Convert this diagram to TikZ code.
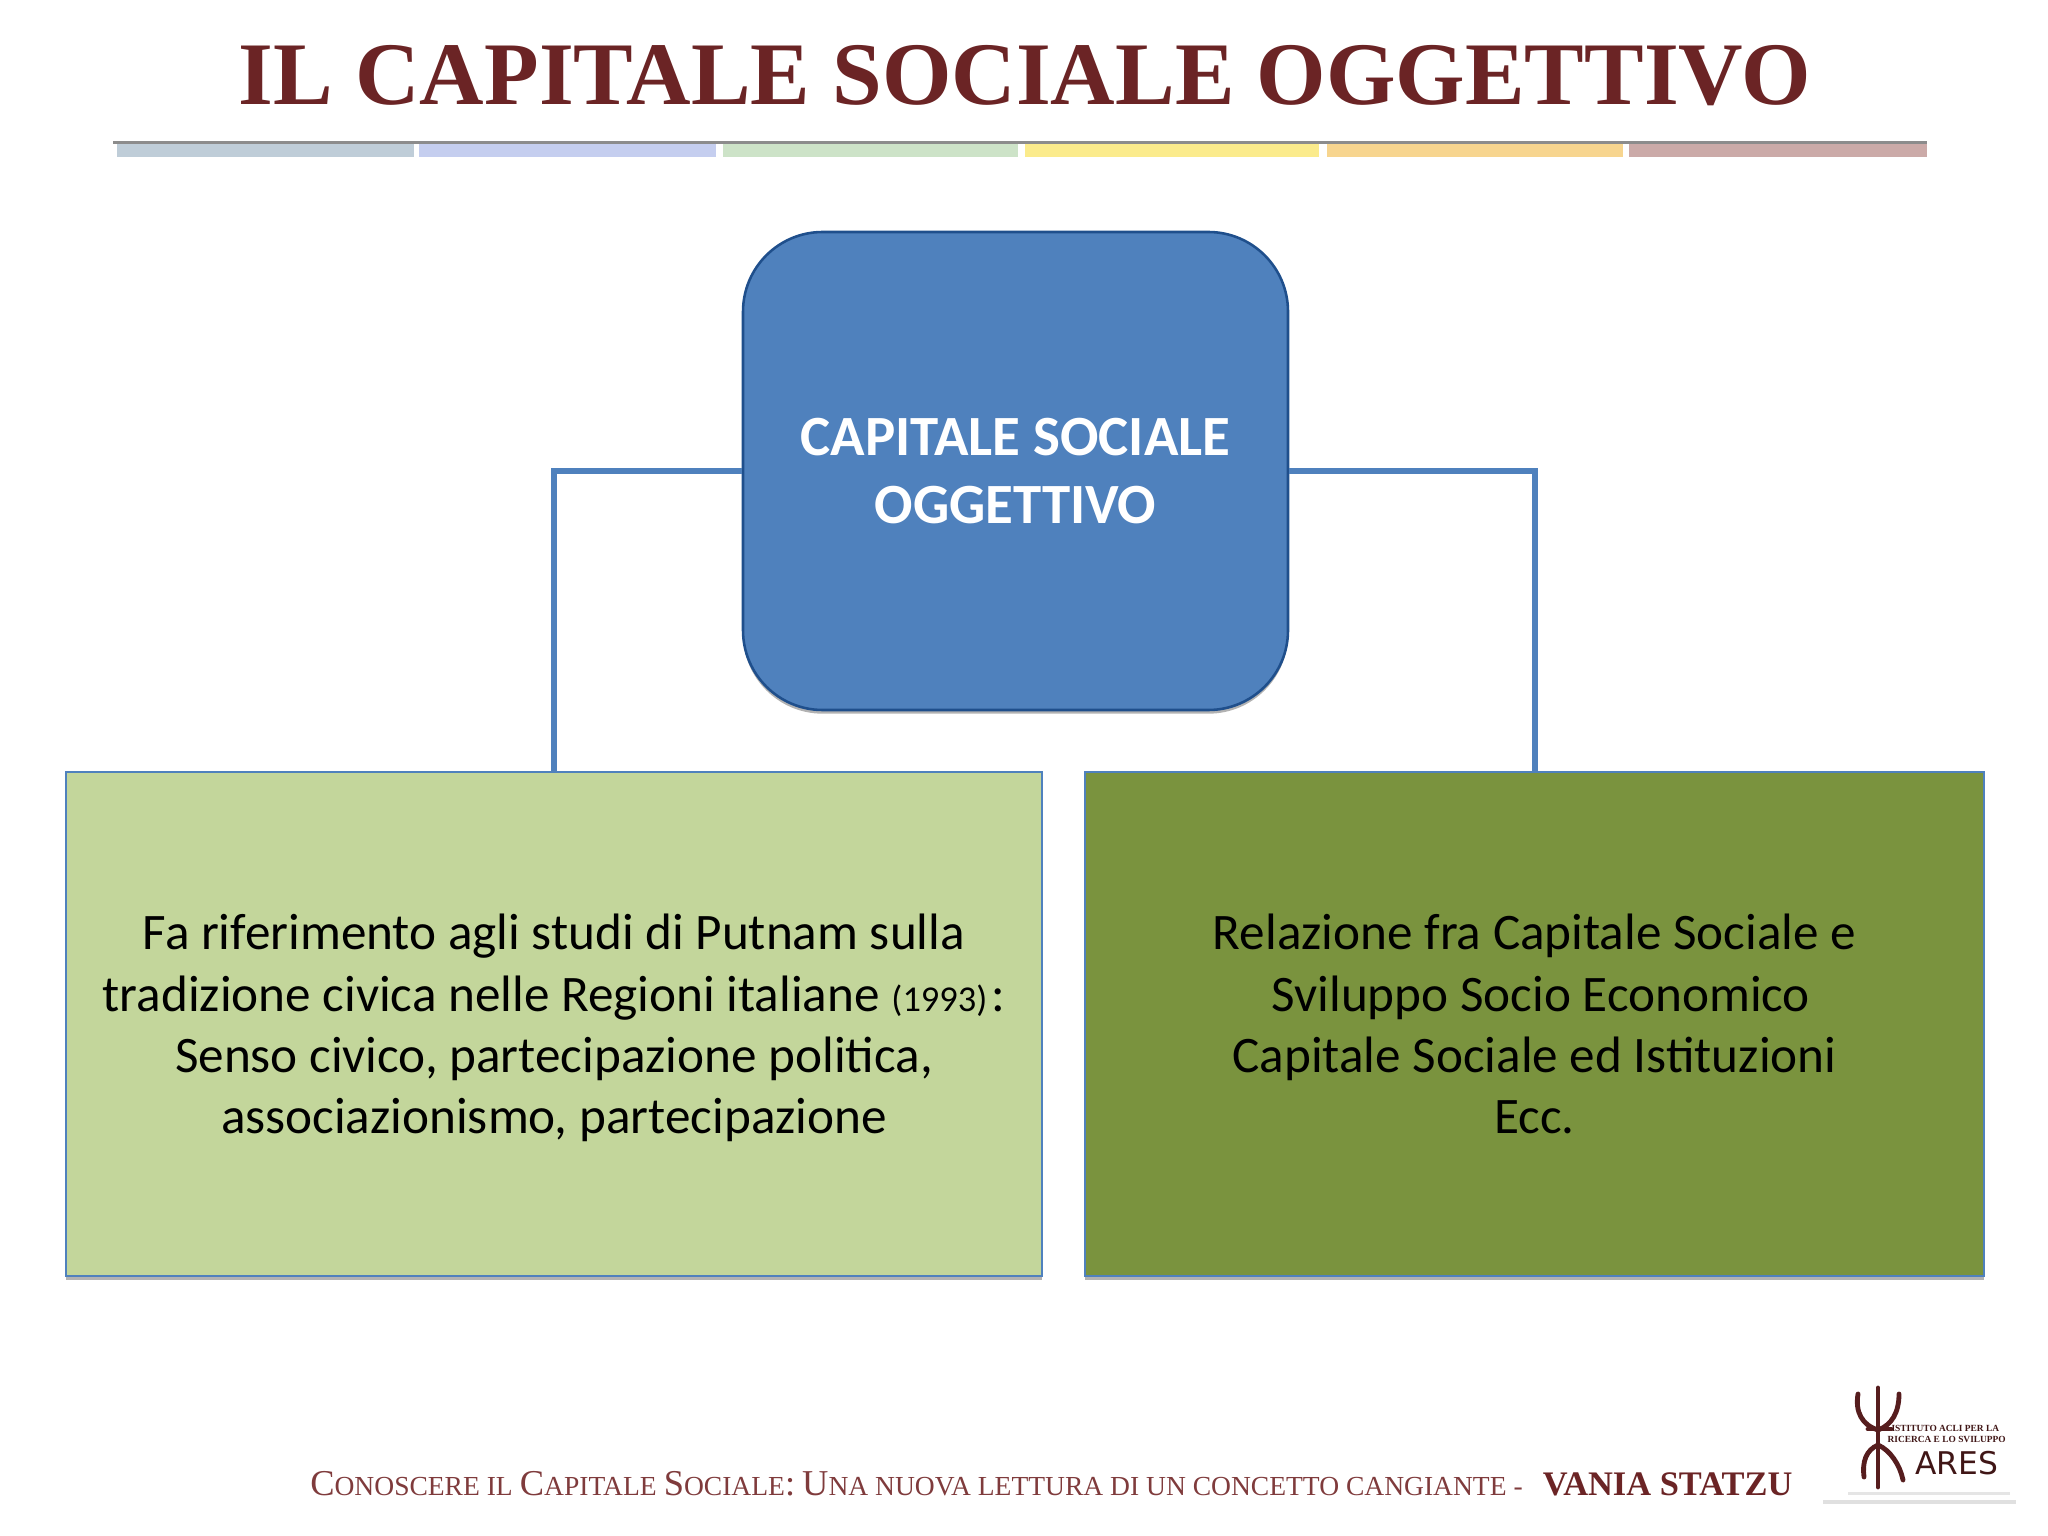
\documentclass[tikz,border=0pt]{standalone}
\usepackage{fontspec}
\setmainfont{Carlito}
\newfontfamily\titlefont{Liberation Serif}
\newfontfamily\logofont{DejaVu Sans}
\usetikzlibrary{shadows}
\definecolor{maroon}{HTML}{6B2425}
\definecolor{footred}{HTML}{7F3B3C}
\definecolor{linkblue}{HTML}{4F81BD}
\definecolor{edgeblue}{HTML}{1F4F8C}
\definecolor{palegreen}{HTML}{C3D69B}
\definecolor{olive}{HTML}{7A933E}
\newcommand{\px}{0.3515625pt}
\newcommand{\smallcap}[2]{{\fontsize{12.8}{14}\selectfont #1}{\fontsize{9.68}{14}\selectfont #2}}
\tikzset{
	softshadow/.style={drop shadow={shadow xshift=0pt,shadow yshift=-1.3pt,opacity=.3,fill=black}},
	headbox/.style={draw=edgeblue,line width=.9pt,fill=linkblue,rounded corners=28pt,minimum width=545*\px,minimum height=478*\px,
		align=center,text=white,font=\fontsize{20}{24.2}\selectfont\bfseries,softshadow,inner sep=0pt},
	leafbox/.style={draw=linkblue,line width=.9pt,minimum height=504*\px,align=center,text depth=0pt,
		font=\fontsize{18}{21.6}\selectfont,softshadow,inner sep=0pt},
	link/.style={draw=linkblue,line width=2.1pt},
	linkshade/.style={draw=black,opacity=.12,line width=2.1pt,yshift=-1.2pt},
}
\begin{document}
\begin{tikzpicture}[x=0.3515625pt,y=-0.3515625pt]
	\useasboundingbox (0,0) rectangle (2048,1536);
	% title
	\node (title) at (1025,76) {\titlefont\fontsize{31.4}{34}\selectfont\bfseries\color{maroon}IL CAPITALE SOCIALE OGGETTIVO};
	% coloured rule
	\foreach \xa/\xb/\col in {117/414/BFCDD8,419/716/C5CEEF,723/1018/CDE3C8,1025/1319/FBEB8C,1327/1623/F7D58F,1629/1927/CBAAA8}{
		\definecolor{barcol}{HTML}{\col}
		\fill[barcol] (\xa,143) rectangle (\xb,157);
	}
	\draw[black!45,line width=.8pt] (113,142.5) -- (1927,142.5);
	% boxes
	\node[headbox] (capitale) at (1015.5,471) {\raisebox{-.35pt}{CAPITALE SOCIALE}\\\raisebox{-.35pt}{OGGETTIVO}};
	\node[leafbox,fill=palegreen,minimum width=976*\px] (putnam) at (554,1024) {Fa riferimento agli studi di Putnam sulla\\tradizione civica nelle Regioni italiane {\fontsize{12.8}{14}\selectfont(1993)}\hspace{1.5pt}:\\Senso civico, partecipazione politica,\\associazionismo, partecipazione};
	\node[leafbox,fill=olive,minimum width=899*\px] (sviluppo) at (1534.5,1024) {Relazione fra Capitale Sociale e\\\hspace*{4.5pt}Sviluppo Socio Economico\\Capitale Sociale ed Istituzioni\\Ecc.};
	% connectors
	\draw[linkshade] (capitale.west) -| (putnam.north);
	\draw[linkshade] (capitale.east) -| (sviluppo.north);
	\draw[link] (capitale.west) -| (putnam.north);
	\draw[link] (capitale.east) -| (sviluppo.north);
	% footer
	\node[anchor=base east,text=footred,inner sep=0pt] (footer) at (1793,1495) {\titlefont\smallcap{C}{ONOSCERE IL} \smallcap{C}{APITALE} \smallcap{S}{OCIALE}\smallcap{:}{} \smallcap{U}{NA NUOVA LETTURA DI UN CONCETTO CANGIANTE} {\fontsize{9.68}{14}\selectfont -}\hspace{7pt}{\fontsize{12.1}{14}\selectfont\bfseries\color{maroon}VANIA STATZU}};
	% logo
	\begin{scope}[draw=maroon!80!black,line cap=round,line width=1.7pt]
		\draw (1858,1394) .. controls (1855,1412) and (1862,1425) .. (1878,1430);
		\draw (1899,1394) .. controls (1899,1412) and (1892,1425) .. (1878,1430);
		\draw (1878,1388) -- (1878,1487);
		\draw (1868,1429) -- (1891,1429);
		\draw (1878,1445) .. controls (1866,1450) and (1862,1462) .. (1864,1477);
		\draw (1878,1445) .. controls (1890,1450) and (1900,1465) .. (1903,1480);
	\end{scope}
	\node[anchor=west,inner sep=0pt,text=maroon!60!black] (logoa) at (1891,1428) {\titlefont\fontsize{3.3}{4}\selectfont\bfseries ISTITUTO ACLI PER LA};
	\node[anchor=west,inner sep=0pt,text=maroon!60!black] (logob) at (1887,1439) {\titlefont\fontsize{3.3}{4}\selectfont\bfseries RICERCA E LO SVILUPPO};
	\node[anchor=west,inner sep=0pt,text=maroon!60!black] (logoc) at (1915,1463) {\logofont\fontsize{11}{12}\selectfont ARES};
	\fill[black!10] (1848,1492) rectangle (2010,1495);
	\fill[black!12] (1823,1500) rectangle (2016,1504);
\end{tikzpicture}
\end{document}
